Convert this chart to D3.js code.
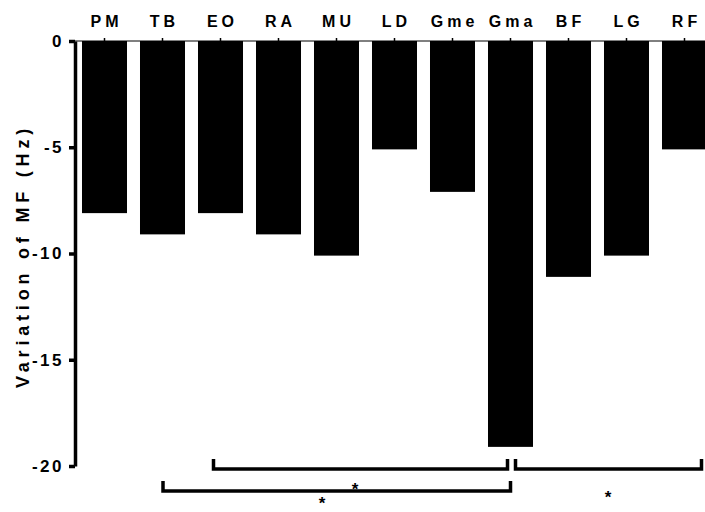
<!DOCTYPE html>
<html><head><meta charset="utf-8">
<script src="https://cdn.jsdelivr.net/npm/d3@7"></script>
<style>body{margin:0;background:#fff}svg{display:block}</style>
</head><body>
<svg id="c" width="705" height="512"></svg>
<script>
const categories = ["PM","TB","EO","RA","MU","LD","Gme","Gma","BF","LG","RF"];
const values = [-8.1,-9.1,-8.1,-9.1,-10.1,-5.1,-7.1,-19.1,-11.1,-10.1,-5.1];
const yTicks = [0,-5,-10,-15,-20];
const brackets = [
  {from:"EO", to:"Gma", star:"*"},
  {from:"TB", to:"Gma", star:"*"},
  {from:"Gma", to:"RF", star:"*"}
];

const svg = d3.select("#c");
const font = "'Liberation Sans', Arial, sans-serif";
const x = d3.scaleBand().domain(categories).range([75.5, 713.5]).paddingInner(0.224).paddingOuter(0.112);
const y = d3.scaleLinear().domain([0,-20]).range([41,466]);

// bars
svg.append("g").selectAll("rect").data(categories).join("rect")
  .attr("x", d=>x(d)).attr("width", x.bandwidth())
  .attr("y", y(0)).attr("height", (d,i)=>y(values[i])-y(0))
  .attr("fill","#000");

// top x axis line (thin) with small ticks
const xa = svg.append("g").attr("transform",`translate(0,${y(0)})`)
  .call(d3.axisTop(x).tickSize(3).tickPadding(11));
xa.select(".domain").attr("stroke","#000").attr("stroke-width",1).attr("d","M75,0H705");
xa.selectAll(".tick line").attr("stroke","#000").attr("stroke-width",1.5);
xa.selectAll(".tick text").attr("font-family",font).attr("font-weight","bold").attr("font-size",16)
  .attr("letter-spacing",4).attr("dx",2).attr("fill","#000");

// y axis
const ya = svg.append("g").attr("transform","translate(75,0)")
  .call(d3.axisLeft(y).tickValues(yTicks).tickSize(6).tickSizeOuter(0).tickPadding(5)
     .tickFormat(d=>String(d)));
ya.select(".domain").attr("stroke","#000").attr("stroke-width",3.5);
ya.selectAll(".tick line").attr("stroke","#000").attr("stroke-width",3.5);
ya.selectAll(".tick text").attr("font-family",font).attr("font-weight","bold").attr("font-size",17)
  .attr("fill","#000").attr("letter-spacing",2.5);

// y title
svg.append("text").attr("transform","translate(29,256) rotate(-90)")
  .attr("text-anchor","middle").attr("font-family",font).attr("font-weight","bold")
  .attr("font-size",18).attr("letter-spacing",4.8).text("Variation of MF (Hz)");

// brackets
const c = d=>x(d)+x.bandwidth()/2;
const bspec = [
  {x1:c(brackets[0].from)-7, x2:c(brackets[0].to)-3, yl:469, sx:355, sy:495},
  {x1:c(brackets[1].from)+0.5, x2:c(brackets[1].to), yl:491, sx:322, sy:509},
  {x1:c(brackets[2].from)+5, x2:c(brackets[2].to)+17, yl:469, sx:608, sy:503}
];
brackets.forEach((b,i)=>{
  const s = bspec[i];
  svg.append("path").attr("d",`M${s.x1},${s.yl-10}V${s.yl}H${s.x2}V${s.yl-10}`)
    .attr("fill","none").attr("stroke","#000").attr("stroke-width",3.5);
  svg.append("text").attr("x",s.sx).attr("y",s.sy).attr("text-anchor","middle")
    .attr("font-family",font).attr("font-weight","bold").attr("font-size",17).text(b.star);
});
</script>
</body></html>
